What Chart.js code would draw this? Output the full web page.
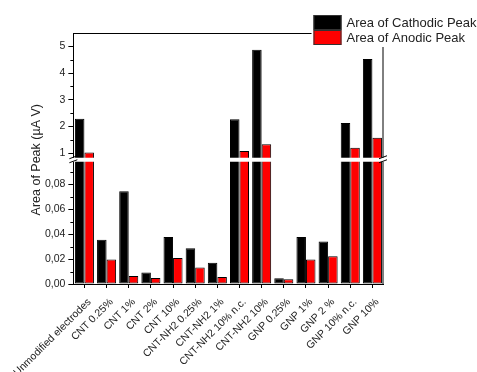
<!DOCTYPE html>
<html>
<head>
<meta charset="utf-8">
<script src="https://cdn.jsdelivr.net/npm/chart.js@4/dist/chart.umd.min.js"></script>
<style>
  html, body { margin: 0; padding: 0; background: #fff; }
</style>
</head>
<body>
<canvas id="peakChart" width="477" height="372"></canvas>
<script>
const categories = ['Unmodified electrodes', 'CNT 0.25%', 'CNT 1%', 'CNT 2%', 'CNT 10%',
    'CNT-NH2 0.25%', 'CNT-NH2 1%', 'CNT-NH2 10% n.c.', 'CNT-NH2 10%',
    'GNP 0.25%', 'GNP 1%', 'GNP 2 %', 'GNP 10% n.c.', 'GNP 10%'];
const cathodic = [2.29, 0.0354, 0.0743, 0.0092, 0.0376, 0.0286, 0.0170, 2.27, 4.87, 0.0046, 0.0376, 0.0340, 2.13, 4.53];
const anodic = [1.02, 0.0197, 0.0065, 0.0049, 0.0208, 0.0132, 0.0057, 1.08, 1.33, 0.0038, 0.0197, 0.0222, 1.20, 1.57];

// the y axis is broken in two segments
const lowRange = [0, 0.0995];
const highRange = [0.75, 5.5];
const lowStep = 0.02;
const highStep = 1;

const axisTitle = 'Area of Peak (\u00b5A V)';
const seriesNames = ['Area of Cathodic Peak', 'Area of Anodic Peak'];
const seriesColors = ['#000000', '#ff0000'];

Chart.defaults.font.family = "'Liberation Sans', Arial, sans-serif";
Chart.defaults.color = '#222';

// lower segment: bars cut at the top of the segment
function lowPart(values) {
    return values.map(v => Math.min(v, lowRange[1]));
}
// upper segment: floating bars starting at the segment bottom
function highPart(values) {
    return values.map(v => v > highRange[0] ? [highRange[0], v] : null);
}

function barSet(i, data, axis) {
    return {
        label: seriesNames[i],
        data: data,
        yAxisID: axis,
        stack: 's' + i,
        backgroundColor: seriesColors[i],
        borderColor: '#000',
        borderWidth: 1,
        borderSkipped: false
    };
}

function yScale(range, step, weight) {
    return {
        type: 'linear',
        position: 'left',
        stack: 'y',
        stackWeight: weight,
        stacked: false,
        min: range[0],
        max: range[1],
        grid: { drawOnChartArea: false, tickLength: 5, tickColor: '#000' },
        border: { color: '#000' },
        ticks: {
            stepSize: step,
            includeBounds: false,
            font: { size: 10.5 },
            padding: 3,
            callback: v => step < 1 ? v.toFixed(2).replace('.', ',') : String(v)
        },
        afterFit: s => { s.width = 71.5; }
    };
}

const brokenAxis = {
    id: 'brokenAxis',
    afterDatasetsDraw(chart) {
        const { ctx, chartArea: a, scales } = chart;
        ctx.save();
        ctx.strokeStyle = '#000';
        ctx.lineWidth = 1;

        // top and right frame
        ctx.beginPath();
        ctx.moveTo(a.left, a.top + 0.5);
        ctx.lineTo(a.right - 0.5, a.top + 0.5);
        ctx.lineTo(a.right - 0.5, a.bottom);
        ctx.stroke();

        // minor ticks halfway between major ticks
        [scales.yLow, scales.yHigh].forEach(s => {
            const vals = s.ticks.map(t => t.value);
            const step = vals[1] - vals[0];
            ctx.beginPath();
            for (let k = -1; k < vals.length; k++) {
                const v = vals[0] + (k + 0.5) * step;
                if (v <= s.min || v >= s.max) continue;
                const y = Math.round(s.getPixelForValue(v)) + 0.5;
                ctx.moveTo(a.left - 3, y);
                ctx.lineTo(a.left, y);
            }
            ctx.stroke();
        });

        // break band
        const yb = scales.yHigh.bottom;
        ctx.fillStyle = '#fff';
        ctx.fillRect(a.left - 5, yb - 2, a.right - a.left + 10, 4);
        ctx.beginPath();
        [a.left, a.right - 0.5].forEach(x => {
            ctx.moveTo(x - 4, yb - 1);
            ctx.lineTo(x + 4, yb - 4);
            ctx.moveTo(x - 4, yb + 3);
            ctx.lineTo(x + 4, yb);
        });
        ctx.stroke();

        // axis title across both segments
        ctx.fillStyle = '#222';
        ctx.font = "12.5px 'Liberation Sans', Arial, sans-serif";
        ctx.textAlign = 'center';
        ctx.textBaseline = 'middle';
        ctx.translate(37, yb);
        ctx.rotate(-Math.PI / 2);
        ctx.fillText(axisTitle, 0, 0);
        ctx.restore();
    },
    afterDraw(chart) {
        // legend overlapping the top right corner of the frame
        const { ctx, chartArea: a } = chart;
        const x = a.right - 70;
        const y = a.top - 18;
        ctx.save();
        ctx.fillStyle = '#fff';
        ctx.fillRect(x - 2, y - 2, chart.width - x + 2, 34);
        ctx.font = "13px 'Liberation Sans', Arial, sans-serif";
        ctx.textBaseline = 'middle';
        ctx.textAlign = 'left';
        seriesNames.forEach((name, i) => {
            const top = y + i * 15;
            ctx.fillStyle = seriesColors[i];
            ctx.fillRect(x, top, 28, 15);
            ctx.strokeStyle = '#333';
            ctx.strokeRect(x + 0.5, top + 0.5, 27, 14);
            ctx.fillStyle = '#222';
            ctx.fillText(name, x + 33, top + 8);
        });
        ctx.restore();
    }
};

new Chart(document.getElementById('peakChart'), {
    type: 'bar',
    data: {
        labels: categories,
        datasets: [
            barSet(0, lowPart(cathodic), 'yLow'),
            barSet(1, lowPart(anodic), 'yLow'),
            barSet(0, highPart(cathodic), 'yHigh'),
            barSet(1, highPart(anodic), 'yHigh')
        ]
    },
    options: {
        responsive: false,
        animation: false,
        layout: { padding: { top: 33, right: 93.5, left: 0, bottom: 0 } },
        datasets: { bar: { categoryPercentage: 0.86, barPercentage: 1 } },
        plugins: {
            legend: { display: false },
            tooltip: { enabled: false }
        },
        scales: {
            x: {
                grid: { drawOnChartArea: false, offset: false, tickLength: 4, tickColor: '#000' },
                border: { color: '#000' },
                ticks: { minRotation: 45, maxRotation: 45, autoSkip: false, font: { size: 10.5 }, padding: 8, labelOffset: 5 },
                afterFit: s => { s.height = 88; }
            },
            yLow: yScale(lowRange, lowStep, 1),
            yHigh: yScale(highRange, highStep, 1.02)
        }
    },
    plugins: [brokenAxis]
});
</script>
</body>
</html>
